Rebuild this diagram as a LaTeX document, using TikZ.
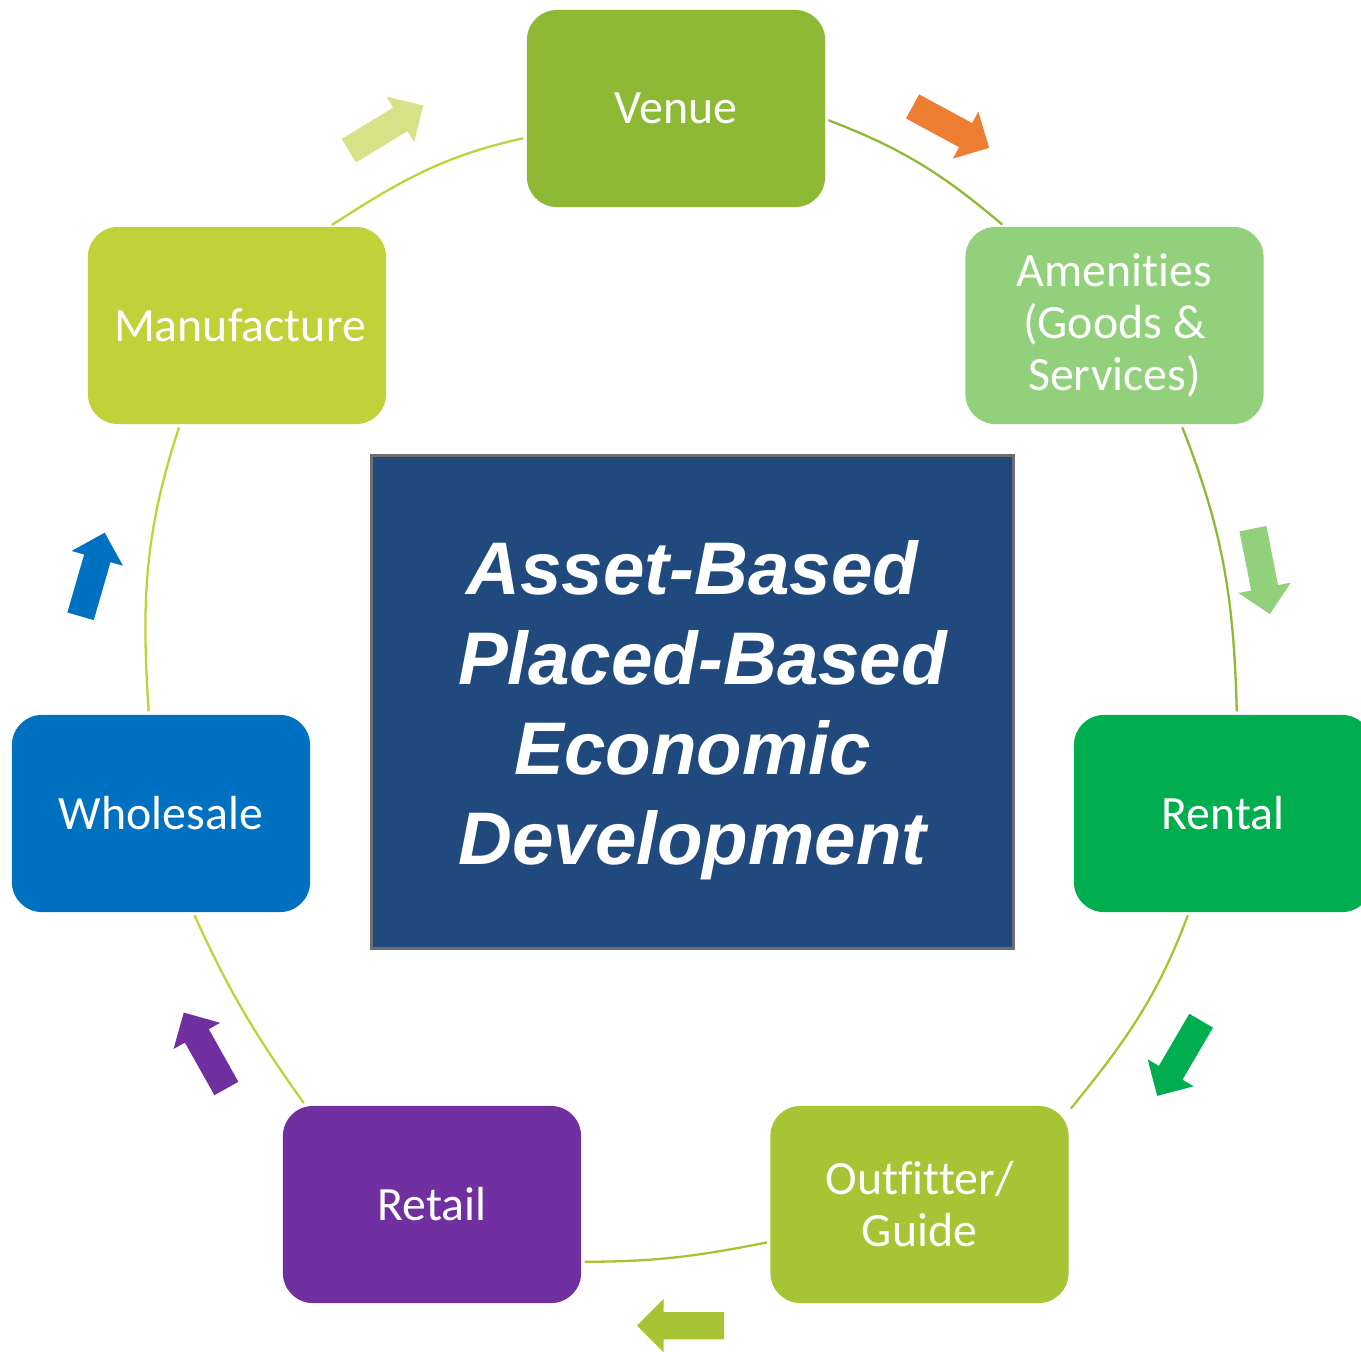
\documentclass[tikz,border=0pt]{standalone}
\usepackage{fontspec}
\setmainfont{Carlito}[Ligatures=NoCommon]
\newfontfamily\titlefont{Liberation Sans}
\usetikzlibrary{shapes.arrows}
\pgfdeclarelayer{bg}
\pgfsetlayers{bg,main}
\definecolor{venuegreen}{RGB}{141,185,52}
\definecolor{amengreen}{RGB}{146,208,123}
\definecolor{rentalgreen}{RGB}{0,174,80}
\definecolor{outfitgreen}{RGB}{166,196,52}
\definecolor{retailpurple}{RGB}{112,48,160}
\definecolor{wholeblue}{RGB}{0,112,192}
\definecolor{manugreen}{RGB}{193,209,58}
\definecolor{palegreen}{RGB}{215,225,135}
\definecolor{arroworange}{RGB}{237,125,49}
\definecolor{corenavy}{RGB}{32,74,126}
\definecolor{coreedge}{RGB}{110,110,110}
\tikzset{
    stagebox/.style={rectangle, rounded corners=0.3cm, minimum width=2.98cm,
        minimum height=1.97cm, inner sep=0mm, outer sep=0mm, text=white,
        align=center, font=\fontsize{13.6}{14.8}\selectfont}
}
\tikzset{ring/.style={line width=0.65pt, shorten <=1pt, shorten >=1pt}}
\tikzset{flow/.style={single arrow, draw=none, inner sep=0mm, inner ysep=0.13cm,
        minimum height=0.87cm, single arrow head extend=0.13cm, anchor=tip}}

\begin{document}
\begin{tikzpicture}[x=0.01cm, y=-0.01cm]
    \useasboundingbox (0,0) rectangle (1361,1351);

    \node (venue) at (676,108.5) [stagebox, fill=venuegreen] {Venue};
    \node (amen) at (1114.5,325.5) [stagebox, fill=amengreen] {Amenities\\(Goods \&\\Services)};
    \node (rental) at (1223,813.5) [stagebox, fill=rentalgreen] {Rental};
    \node (outfit) at (919.5,1204.5) [stagebox, fill=outfitgreen] {Outfitter/\\Guide};
    \node (retail) at (432,1204.5) [stagebox, fill=retailpurple] {Retail};
    \node (whole) at (161,813.5) [stagebox, fill=wholeblue] {Wholesale};
    \node (manu) at (237,325.5) [stagebox, fill=manugreen] {\hspace*{0.06cm}Manufacture};

    \node (core) at (692.5,702) [rectangle, minimum width=6.41cm, minimum height=4.92cm,
        fill=corenavy, draw=coreedge, line width=0.8pt] {};
    \node (title) at ([yshift=-0.08cm]core.center) [text=white, align=center,
        font=\titlefont\bfseries\itshape\fontsize{21.2}{25.6}\selectfont]
        {Asset-Based\\\hspace*{0.2cm}Placed-Based\\Economic\\Development};

    \begin{pgfonlayer}{bg}
        \draw[ring, venuegreen] (venue.-4.7) to[out=-21, in=139.6] (amen.138.2);
        \draw[ring, venuegreen] (amen.-56.5) to[out=-68.5, in=91.5] (rental.82.2);
        \draw[ring, outfitgreen] (rental.-109) to[out=-110.6, in=50.9] (outfit.32.7);
        \draw[ring, outfitgreen] (outfit.194.7) to[out=191.3, in=0] (retail.-21);
        \draw[ring, manugreen] (retail.142.4) to[out=125.5, in=-65.6] (whole.-72.4);
        \draw[ring, manugreen] (whole.97.8) to[out=93.8, in=-108.2] (manu.-120.4);
        \draw[ring, manugreen] (manu.47.9) to[out=33, in=192.3] (venue.191.5);
    \end{pgfonlayer}

    \node (ar1) at (424,105) [flow, fill=palegreen, rotate=31.3] {};
    \node (ar2) at (990,148.3) [flow, fill=arroworange, rotate=-28.4] {};
    \node (ar3) at (1270,615) [flow, fill=amengreen, rotate=-78.8] {};
    \node (ar4) at (1156.7,1096.7) [flow, fill=rentalgreen, rotate=-120.3] {};
    \node (ar5) at (636,1325.7) [flow, fill=outfitgreen, rotate=180] {};
    \node (ar6) at (183.3,1011.7) [flow, fill=retailpurple, rotate=119.3] {};
    \node (ar7) at (105,531.7) [flow, fill=wholeblue, rotate=73.9] {};
\end{tikzpicture}
\end{document}
